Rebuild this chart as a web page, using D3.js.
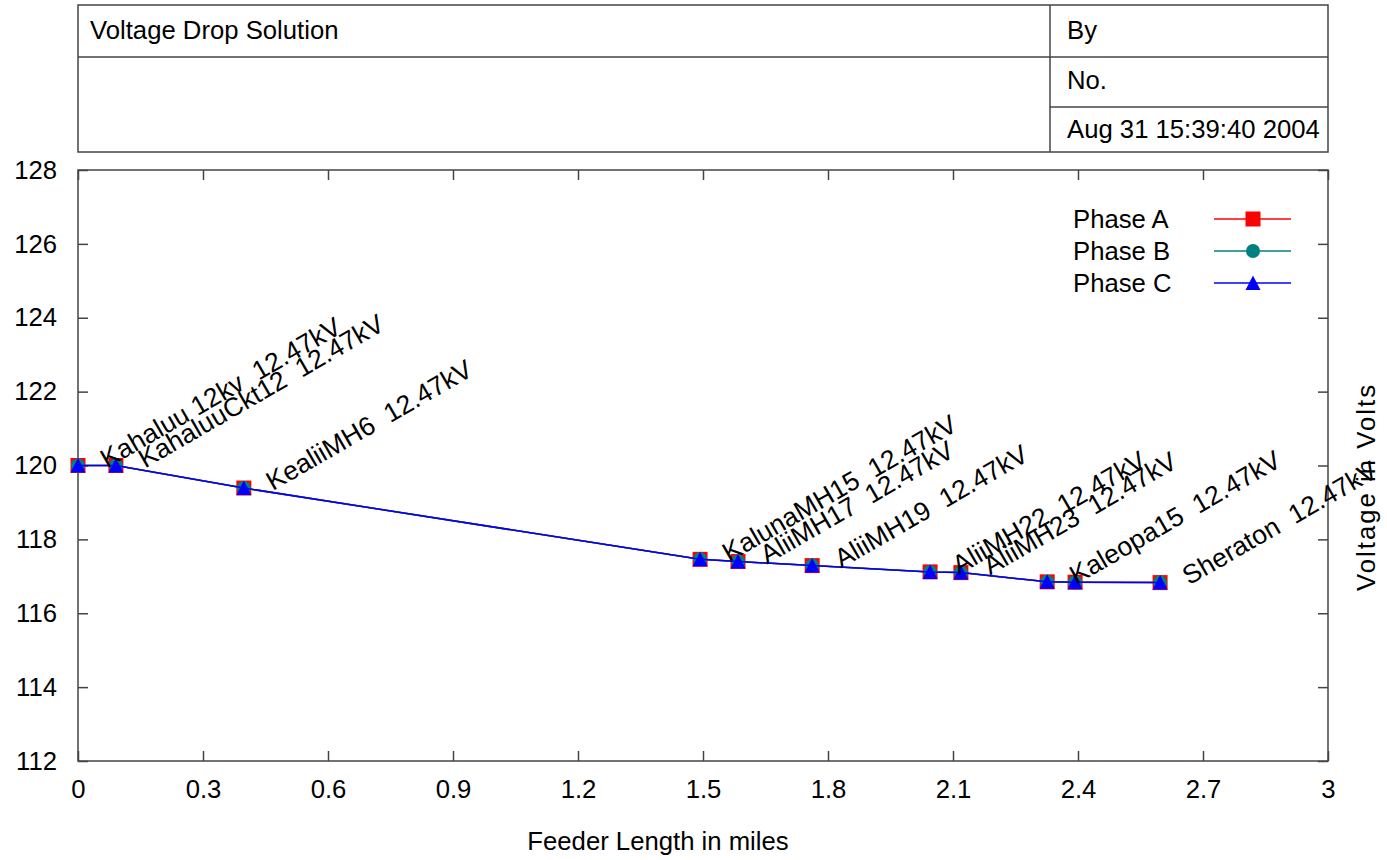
<!DOCTYPE html>
<html>
<head>
<meta charset="utf-8">
<script src="https://cdn.jsdelivr.net/npm/d3@7"></script>
<style>
  body { margin: 0; background: #fff; }
  text { font-family: "Liberation Sans", Arial, sans-serif; font-size: 25.7px; fill: #000; }
</style>
</head>
<body>
<div id="chart"></div>
<script>
// feeder length (miles) of each node and voltage per phase
var distances = [0, 0.091, 0.398, 1.493, 1.584, 1.762, 2.045, 2.119, 2.326, 2.393, 2.597];
var phaseA = [120.0, 120.0, 119.39, 117.46, 117.40, 117.29, 117.12, 117.10, 116.85, 116.84, 116.83];
var phaseB = [120.0, 120.0, 119.39, 117.46, 117.40, 117.29, 117.12, 117.10, 116.85, 116.84, 116.83];
var phaseC = [120.0, 120.0, 119.39, 117.46, 117.40, 117.29, 117.12, 117.10, 116.85, 116.84, 116.83];
var nodeNames = ["Kahaluu 12kv  12.47kV", "KahaluuCkt12  12.47kV", "KealiiMH6  12.47kV",
    "KalunaMH15  12.47kV", "AliiMH17  12.47kV", "AliiMH19  12.47kV", "AliiMH22  12.47kV",
    "AliiMH23  12.47kV", "Kaleopa15  12.47kV", "", "Sheraton  12.47kV"];
var seriesNames = ["Phase A", "Phase B", "Phase C"];
var seriesColors = ["#ff0000", "#008080", "#0000ff"];
var xTicks = [0, 0.3, 0.6, 0.9, 1.2, 1.5, 1.8, 2.1, 2.4, 2.7, 3];
var xTickLabels = ["0", "0.3", "0.6", "0.9", "1.2", "1.5", "1.8", "2.1", "2.4", "2.7", "3"];
var yTicks = [112, 114, 116, 118, 120, 122, 124, 126, 128];
var titleText = "Voltage Drop Solution";
var byText = "By";
var noText = "No.";
var dateText = "Aug 31 15:39:40 2004";
var xTitle = "Feeder Length in miles";
var yTitle = "Voltage in Volts";

var width = 1387, height = 860;
var margin = {top: 170, right: 59, bottom: 99, left: 78};
var plotW = width - margin.left - margin.right,
    plotH = height - margin.top - margin.bottom;
var frameColor = "#444";

var svg = d3.select("#chart").append("svg")
    .attr("width", width)
    .attr("height", height);

// title block
var tb = svg.append("g");
tb.append("rect")
    .attr("x", 78).attr("y", 5).attr("width", 1250).attr("height", 147)
    .attr("fill", "none").attr("stroke", frameColor).attr("stroke-width", 1.5);
tb.append("line").attr("x1", 78).attr("x2", 1328).attr("y1", 57).attr("y2", 57)
    .attr("stroke", frameColor).attr("stroke-width", 1.5);
tb.append("line").attr("x1", 1050).attr("x2", 1328).attr("y1", 107).attr("y2", 107)
    .attr("stroke", frameColor).attr("stroke-width", 1.5);
tb.append("line").attr("x1", 1050).attr("x2", 1050).attr("y1", 5).attr("y2", 152)
    .attr("stroke", frameColor).attr("stroke-width", 1.5);
tb.append("text").attr("x", 90).attr("y", 39).text(titleText);
tb.append("text").attr("x", 1067).attr("y", 39).text(byText);
tb.append("text").attr("x", 1067).attr("y", 89).text(noText);
tb.append("text").attr("x", 1067).attr("y", 138).text(dateText);

var g = svg.append("g")
    .attr("transform", "translate(" + margin.left + "," + margin.top + ")");

var x = d3.scaleLinear().domain([0, 3]).range([0, plotW]);
var y = d3.scaleLinear().domain([112, 128]).range([plotH, 0]);

// axes, ticks pointing inward
function styleAxis(sel) {
    sel.select(".domain").remove();
    sel.selectAll(".tick line").attr("stroke", frameColor).attr("stroke-width", 1.5);
    sel.selectAll(".tick text").attr("font-size", null).attr("font-family", null).attr("fill", "#000");
}
g.append("g")
    .attr("transform", "translate(0," + plotH + ")")
    .call(d3.axisBottom(x).tickValues(xTicks)
        .tickFormat(function(d, i) { return xTickLabels[i]; })
        .tickSizeInner(-10).tickSizeOuter(0).tickPadding(19))
    .call(styleAxis);
g.append("g")
    .call(d3.axisTop(x).tickValues(xTicks).tickFormat("")
        .tickSizeInner(-10).tickSizeOuter(0))
    .call(styleAxis);
g.append("g")
    .call(d3.axisLeft(y).tickValues(yTicks)
        .tickSizeInner(-10).tickSizeOuter(0).tickPadding(21))
    .call(styleAxis);
g.append("g")
    .attr("transform", "translate(" + plotW + ",0)")
    .call(d3.axisRight(y).tickValues(yTicks).tickFormat("")
        .tickSizeInner(-10).tickSizeOuter(0))
    .call(styleAxis);

g.append("rect")
    .attr("width", plotW).attr("height", plotH)
    .attr("fill", "none").attr("stroke", frameColor).attr("stroke-width", 1.5);

// axis titles
svg.append("text")
    .attr("x", 658).attr("y", 850)
    .attr("text-anchor", "middle")
    .text(xTitle);
svg.append("text")
    .attr("transform", "translate(1375,488) rotate(-90)")
    .attr("text-anchor", "middle")
    .attr("textLength", 206)
    .attr("lengthAdjust", "spacing")
    .text(yTitle);

// markers
function drawMarker(sel, kind, color) {
    if (kind === 0) {
        sel.append("rect").attr("x", -7.5).attr("y", -7.5).attr("width", 15).attr("height", 15)
            .attr("fill", color);
    } else if (kind === 1) {
        sel.append("circle").attr("r", 7).attr("fill", color);
    } else {
        sel.append("path").attr("d", "M0,-7.5L7.5,7L-7.5,7Z").attr("fill", color);
    }
}

var allSeries = [phaseA, phaseB, phaseC];
var line = d3.line()
    .x(function(d) { return x(d[0]); })
    .y(function(d) { return y(d[1]); });

allSeries.forEach(function(vals, s) {
    var pts = distances.map(function(d, i) { return [d, vals[i]]; });
    g.append("path")
        .datum(pts)
        .attr("fill", "none")
        .attr("stroke", seriesColors[s])
        .attr("stroke-width", 1.5)
        .attr("d", line);
    g.selectAll(".pt" + s)
        .data(pts)
        .enter().append("g")
        .attr("class", "pt" + s)
        .attr("transform", function(d) { return "translate(" + x(d[0]) + "," + y(d[1]) + ")"; })
        .each(function() { drawMarker(d3.select(this), s, seriesColors[s]); });
});

// node labels
g.selectAll(".nodeLabel")
    .data(nodeNames)
    .enter().append("text")
    .attr("class", "nodeLabel")
    .style("white-space", "pre")
    .style("font-size", "26.5px")
    .attr("transform", function(d, i) {
        return "translate(" + (x(distances[i]) + 29) + "," + (y(phaseC[i]) + 3) + ") rotate(-30)";
    })
    .text(function(d) { return d; });

// legend
var legend = svg.append("g");
var legendY = [219, 251, 283];
seriesNames.forEach(function(name, s) {
    legend.append("text")
        .attr("x", 1073).attr("y", legendY[s] + 9)
        .text(name);
    legend.append("line")
        .attr("x1", 1214).attr("x2", 1291)
        .attr("y1", legendY[s]).attr("y2", legendY[s])
        .attr("stroke", seriesColors[s]).attr("stroke-width", 1.5);
    var m = legend.append("g").attr("transform", "translate(1253," + legendY[s] + ")");
    drawMarker(m, s, seriesColors[s]);
});
</script>
</body>
</html>
